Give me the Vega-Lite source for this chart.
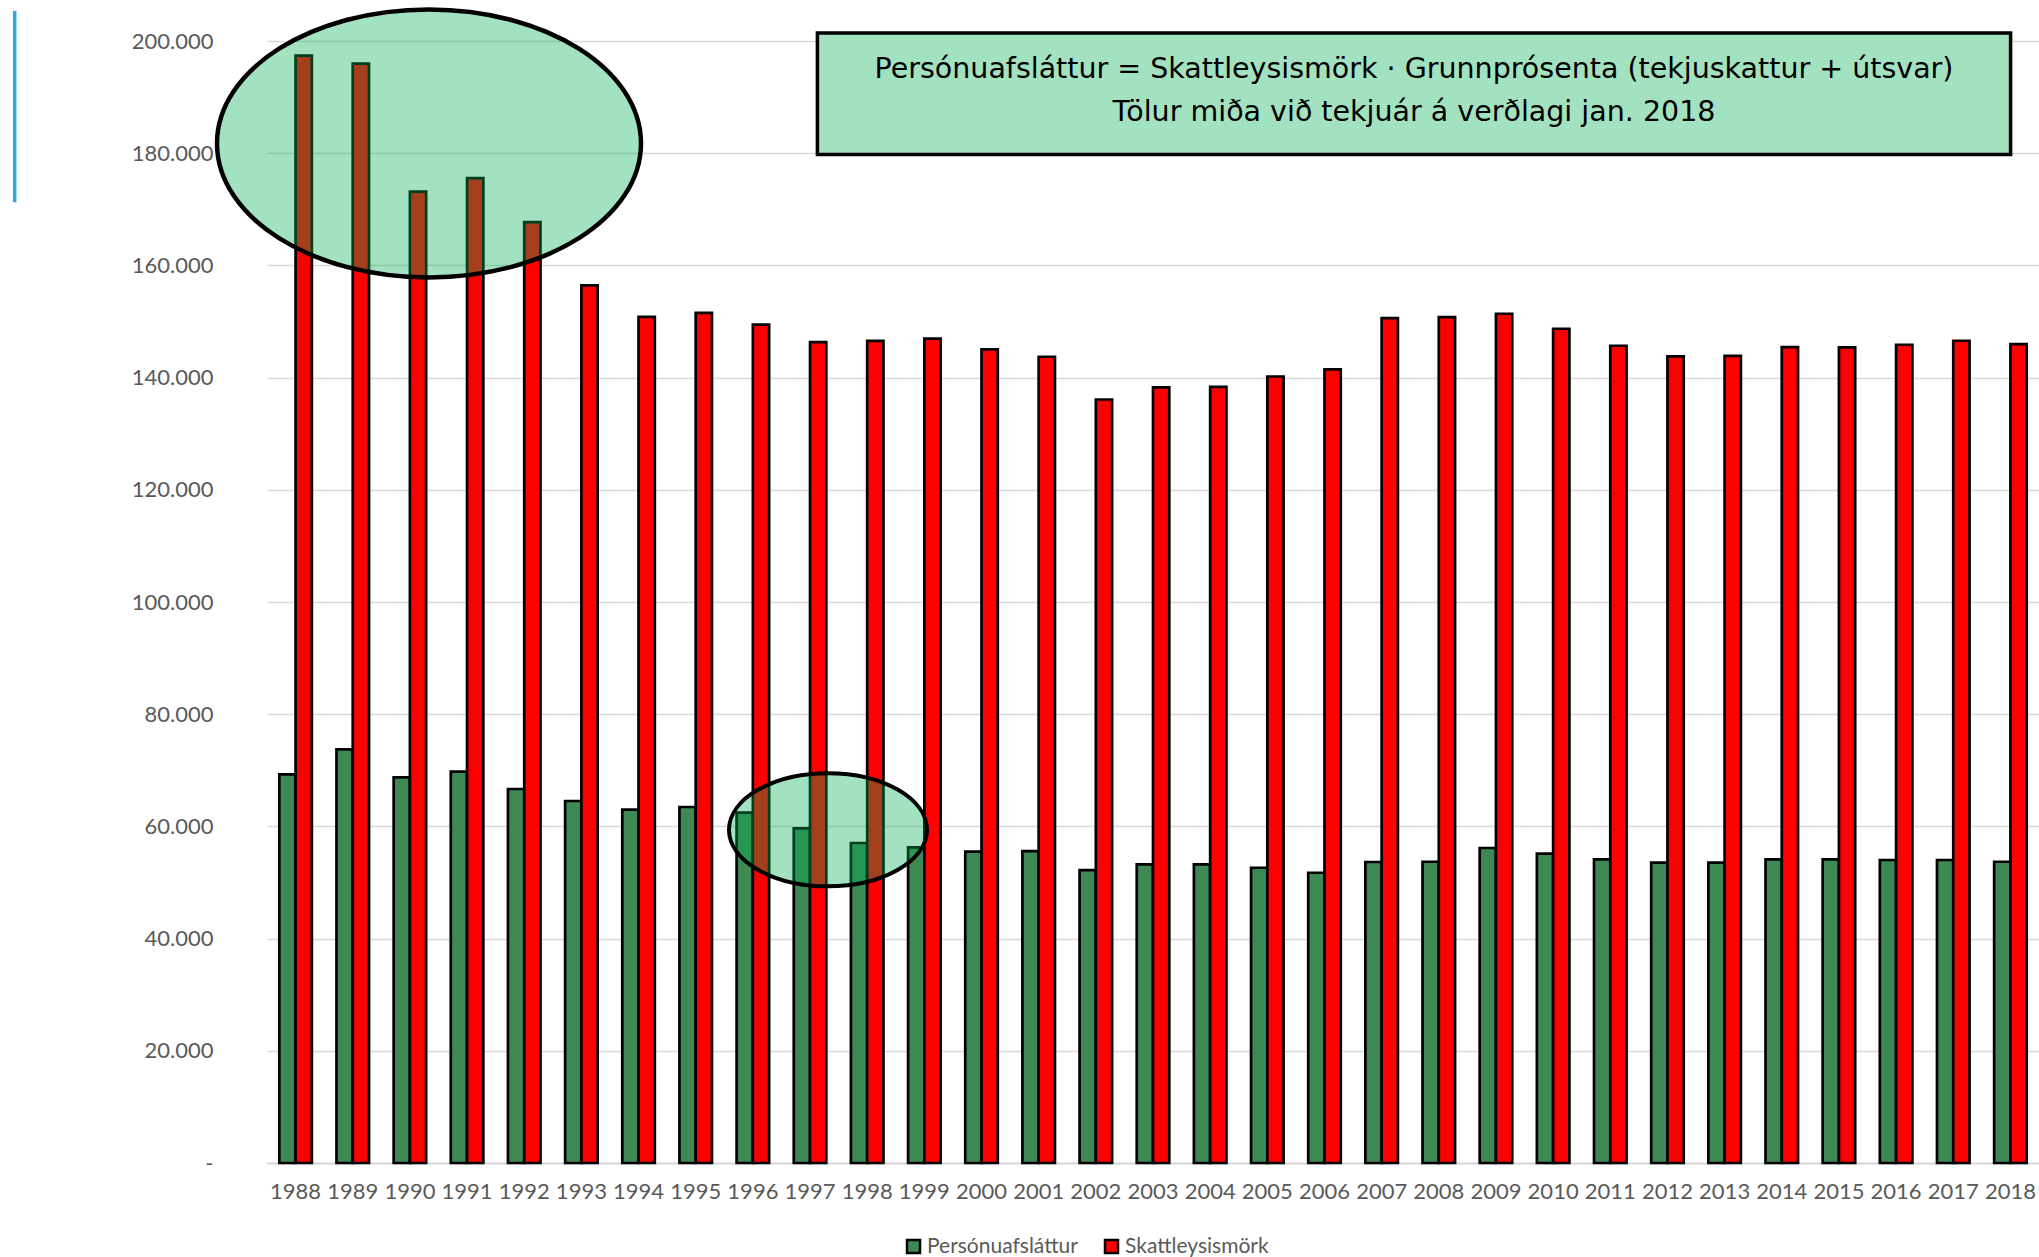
{
  "$schema": "https://vega.github.io/schema/vega-lite/v6.json",
  "width": 1772,
  "height": 1122,
  "autosize": {"type": "none"},
  "padding": {"left": 267, "top": 41, "right": 0, "bottom": 94},
  "background": "white",
  "config": {"view": {"stroke": null}, "font": "Lato"},
  "datasets": {
    "bars": [
      {"year": "1988", "series": "Persónuafsláttur", "value": 69270},
      {"year": "1989", "series": "Persónuafsláttur", "value": 73730},
      {"year": "1990", "series": "Persónuafsláttur", "value": 68740},
      {"year": "1991", "series": "Persónuafsláttur", "value": 69760},
      {"year": "1992", "series": "Persónuafsláttur", "value": 66670},
      {"year": "1993", "series": "Persónuafsláttur", "value": 64530},
      {"year": "1994", "series": "Persónuafsláttur", "value": 62980},
      {"year": "1995", "series": "Persónuafsláttur", "value": 63460},
      {"year": "1996", "series": "Persónuafsláttur", "value": 62440},
      {"year": "1997", "series": "Persónuafsláttur", "value": 59640},
      {"year": "1998", "series": "Persónuafsláttur", "value": 57040},
      {"year": "1999", "series": "Persónuafsláttur", "value": 56250},
      {"year": "2000", "series": "Persónuafsláttur", "value": 55490},
      {"year": "2001", "series": "Persónuafsláttur", "value": 55610},
      {"year": "2002", "series": "Persónuafsláttur", "value": 52220},
      {"year": "2003", "series": "Persónuafsláttur", "value": 53220},
      {"year": "2004", "series": "Persónuafsláttur", "value": 53220},
      {"year": "2005", "series": "Persónuafsláttur", "value": 52630},
      {"year": "2006", "series": "Persónuafsláttur", "value": 51740},
      {"year": "2007", "series": "Persónuafsláttur", "value": 53650},
      {"year": "2008", "series": "Persónuafsláttur", "value": 53700},
      {"year": "2009", "series": "Persónuafsláttur", "value": 56150},
      {"year": "2010", "series": "Persónuafsláttur", "value": 55130},
      {"year": "2011", "series": "Persónuafsláttur", "value": 54110},
      {"year": "2012", "series": "Persónuafsláttur", "value": 53530},
      {"year": "2013", "series": "Persónuafsláttur", "value": 53530},
      {"year": "2014", "series": "Persónuafsláttur", "value": 54110},
      {"year": "2015", "series": "Persónuafsláttur", "value": 54110},
      {"year": "2016", "series": "Persónuafsláttur", "value": 54010},
      {"year": "2017", "series": "Persónuafsláttur", "value": 54010},
      {"year": "2018", "series": "Persónuafsláttur", "value": 53700},
      {"year": "1988", "series": "Skattleysismörk", "value": 197400},
      {"year": "1989", "series": "Skattleysismörk", "value": 195970},
      {"year": "1990", "series": "Skattleysismörk", "value": 173140},
      {"year": "1991", "series": "Skattleysismörk", "value": 175570},
      {"year": "1992", "series": "Skattleysismörk", "value": 167720},
      {"year": "1993", "series": "Skattleysismörk", "value": 156430},
      {"year": "1994", "series": "Skattleysismörk", "value": 150830},
      {"year": "1995", "series": "Skattleysismörk", "value": 151540},
      {"year": "1996", "series": "Skattleysismörk", "value": 149460},
      {"year": "1997", "series": "Skattleysismörk", "value": 146320},
      {"year": "1998", "series": "Skattleysismörk", "value": 146550},
      {"year": "1999", "series": "Skattleysismörk", "value": 146960},
      {"year": "2000", "series": "Skattleysismörk", "value": 145020},
      {"year": "2001", "series": "Skattleysismörk", "value": 143720},
      {"year": "2002", "series": "Skattleysismörk", "value": 136100},
      {"year": "2003", "series": "Skattleysismörk", "value": 138240},
      {"year": "2004", "series": "Skattleysismörk", "value": 138360},
      {"year": "2005", "series": "Skattleysismörk", "value": 140200},
      {"year": "2006", "series": "Skattleysismörk", "value": 141450},
      {"year": "2007", "series": "Skattleysismörk", "value": 150600},
      {"year": "2008", "series": "Skattleysismörk", "value": 150780},
      {"year": "2009", "series": "Skattleysismörk", "value": 151380},
      {"year": "2010", "series": "Skattleysismörk", "value": 148710},
      {"year": "2011", "series": "Skattleysismörk", "value": 145680},
      {"year": "2012", "series": "Skattleysismörk", "value": 143770},
      {"year": "2013", "series": "Skattleysismörk", "value": 143890},
      {"year": "2014", "series": "Skattleysismörk", "value": 145430},
      {"year": "2015", "series": "Skattleysismörk", "value": 145380},
      {"year": "2016", "series": "Skattleysismörk", "value": 145860},
      {"year": "2017", "series": "Skattleysismörk", "value": 146570},
      {"year": "2018", "series": "Skattleysismörk", "value": 145960}
    ],
    "ellipse1": [{"year": 1990.334, "value": 181740}],
    "ellipse2": [{"year": 1997.314, "value": 59390}],
    "box": [{"x": 1997.129, "x2": 2018.003, "y": 201410, "y2": 179777}],
    "note": [
      {"x": 2007.566, "y": 193450, "line": "Persónuafsláttur = Skattleysismörk · Grunnprósenta (tekjuskattur + útsvar)"},
      {"x": 2007.566, "y": 185750, "line": "Tölur miða við tekjuár á verðlagi jan. 2018"}
    ],
    "accent": [{"x": 1983.086, "y": 205332, "y2": 171270}]
  },
  "layer": [
    {
      "data": {"name": "bars"},
      "mark": {"type": "bar", "stroke": "black", "strokeWidth": 2.7, "strokeJoin": "miter"},
      "encoding": {
        "x": {
          "field": "year", "type": "ordinal", "title": null,
          "scale": {"paddingInner": 0.431, "paddingOuter": 0.2155},
          "axis": {"title": null, "domainColor": "#D9D9D9", "domainWidth": 2, "ticks": false, "tickSize": 0,
                   "labelFont": "Lato", "labelFontSize": 22, "labelColor": "#595959", "labelPadding": 18,
                   "labelAngle": 0, "grid": false}
        },
        "xOffset": {"field": "series", "type": "nominal", "scale": {"paddingInner": 0, "paddingOuter": 0}},
        "y": {
          "field": "value", "type": "quantitative", "title": null,
          "scale": {"domain": [0, 200000], "nice": false, "zero": true},
          "axis": {"title": null, "values": [0, 20000, 40000, 60000, 80000, 100000, 120000, 140000, 160000, 180000, 200000],
                   "labelExpr": "datum.value == 0 ? '-' : replace(format(datum.value, ','), ',', '.')",
                   "grid": true, "gridColor": "#D9D9D9", "gridWidth": 1.5, "domain": false, "ticks": false, "tickSize": 0,
                   "labelPadding": 54, "labelFont": "Lato", "labelFontSize": 22, "labelColor": "#595959"}
        },
        "color": {
          "field": "series", "type": "nominal",
          "scale": {"domain": ["Persónuafsláttur", "Skattleysismörk"], "range": ["#3E8853", "#FF0000"]},
          "legend": {"title": null, "orient": "none", "legendX": 636, "legendY": 1195, "direction": "horizontal",
                     "symbolType": "square", "symbolSize": 169, "symbolStrokeColor": "black", "symbolStrokeWidth": 2.5,
                     "labelFont": "Lato", "labelFontSize": 21, "labelColor": "#595959", "columnPadding": 22,
                     "labelOffset": 3, "padding": 0}
        }
      }
    },
    {
      "data": {"name": "box"},
      "mark": {"type": "rect", "fill": "#A3E2C0", "stroke": "black", "strokeWidth": 3.5},
      "encoding": {
        "x": {"field": "x", "type": "quantitative", "scale": {"domain": [1987.5, 2018.5], "nice": false, "zero": false}, "axis": null},
        "x2": {"field": "x2"},
        "y": {"field": "y", "type": "quantitative", "title": null, "scale": {"domain": [0, 200000], "nice": false}},
        "y2": {"field": "y2"}
      }
    },
    {
      "data": {"name": "note"},
      "mark": {"type": "text", "align": "center", "baseline": "alphabetic", "font": "DejaVu Sans", "fontSize": 28.5, "color": "black"},
      "encoding": {
        "x": {"field": "x", "type": "quantitative", "scale": {"domain": [1987.5, 2018.5], "nice": false, "zero": false}, "axis": null},
        "y": {"field": "y", "type": "quantitative", "title": null, "scale": {"domain": [0, 200000], "nice": false}},
        "text": {"field": "line"}
      }
    },
    {
      "data": {"name": "ellipse1"},
      "mark": {"type": "point", "shape": "M-1,0A1,0.632,0,1,1,1,0A1,0.632,0,1,1,-1,0Z", "size": 179776,
               "filled": true, "fill": "#00B050", "fillOpacity": 0.36, "stroke": "black", "strokeWidth": 4.5, "strokeOpacity": 1, "opacity": 1},
      "encoding": {
        "x": {"field": "year", "type": "quantitative", "scale": {"domain": [1987.5, 2018.5], "nice": false, "zero": false}, "axis": null},
        "y": {"field": "value", "type": "quantitative", "title": null, "scale": {"domain": [0, 200000], "nice": false}}
      }
    },
    {
      "data": {"name": "ellipse2"},
      "mark": {"type": "point", "shape": "M-1,0A1,0.571,0,1,1,1,0A1,0.571,0,1,1,-1,0Z", "size": 39204,
               "filled": true, "fill": "#00B050", "fillOpacity": 0.36, "stroke": "black", "strokeWidth": 4, "strokeOpacity": 1, "opacity": 1},
      "encoding": {
        "x": {"field": "year", "type": "quantitative", "scale": {"domain": [1987.5, 2018.5], "nice": false, "zero": false}, "axis": null},
        "y": {"field": "value", "type": "quantitative", "title": null, "scale": {"domain": [0, 200000], "nice": false}}
      }
    },
    {
      "data": {"name": "accent"},
      "mark": {"type": "rule", "color": "#29ABE2", "strokeWidth": 3.5},
      "encoding": {
        "x": {"field": "x", "type": "quantitative", "scale": {"domain": [1987.5, 2018.5], "nice": false, "zero": false}, "axis": null},
        "y": {"field": "y", "type": "quantitative", "title": null, "scale": {"domain": [0, 200000], "nice": false}},
        "y2": {"field": "y2"}
      }
    }
  ],
  "resolve": {"scale": {"x": "independent"}, "axis": {"x": "independent"}}
}
